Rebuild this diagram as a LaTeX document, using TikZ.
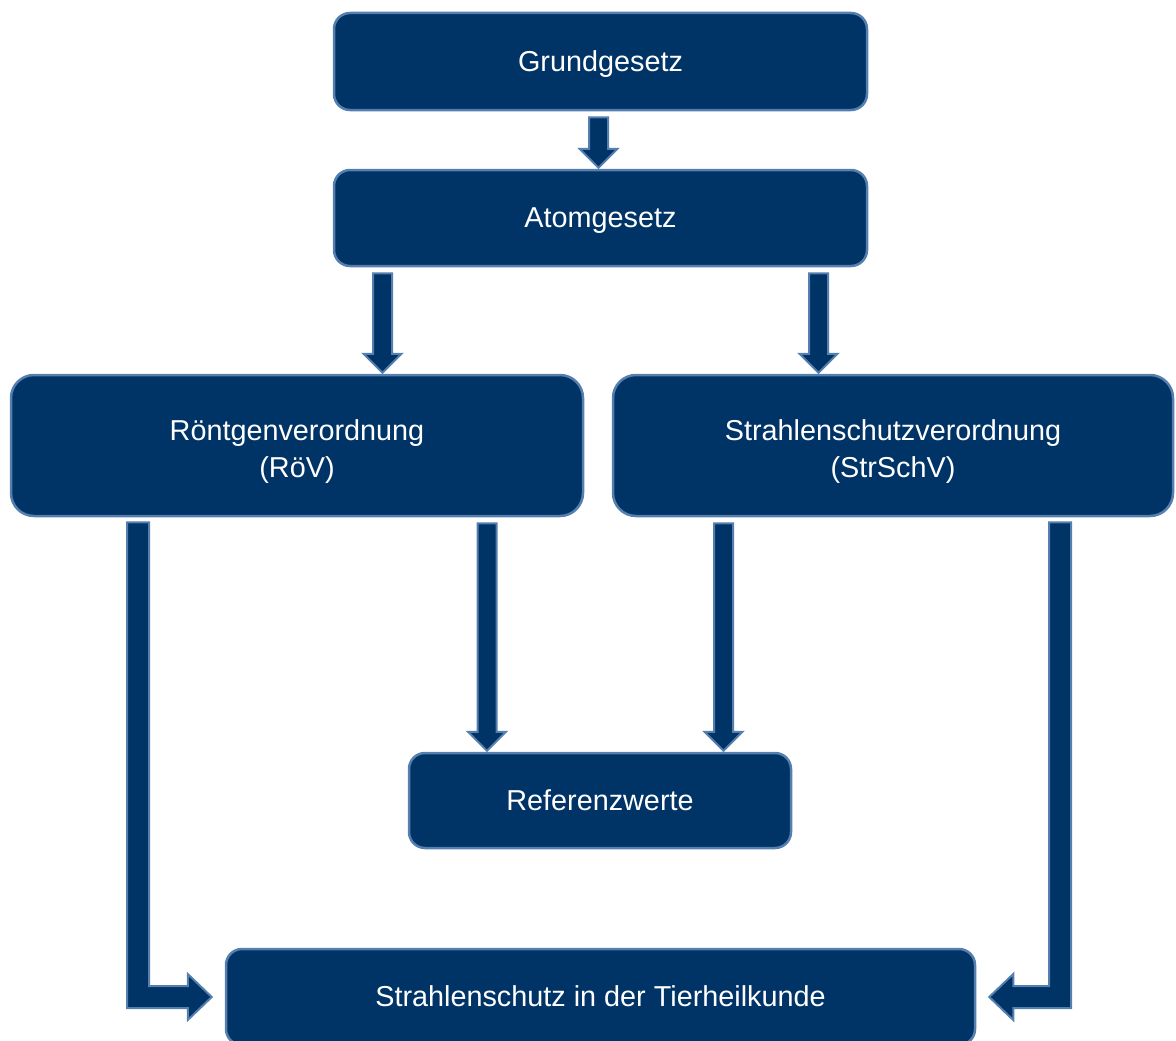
\documentclass[tikz,border=0pt]{standalone}
\usepackage{fontspec}
\setmainfont{Liberation Sans}
\usetikzlibrary{calc}
\definecolor{navy}{RGB}{0,51,102}
\definecolor{rimblue}{RGB}{84,127,174}

\newcommand{\vblock}[3]{%
\draw[blockarrow] let \p1 = ([xshift=#2pt]#1.south), \p2 = (#3.north) in
  (\x1-9.5pt,\y1-6pt) -- (\x1+9.5pt,\y1-6pt) -- (\x1+9.5pt,\y2+20pt) -- (\x1+19pt,\y2+20pt)
  -- (\x1,\y2+1pt) -- (\x1-19pt,\y2+20pt) -- (\x1-9.5pt,\y2+20pt) -- cycle;}

\begin{document}
\begin{tikzpicture}[x=1pt, y=-1pt,
  lawbox/.style={draw=rimblue, fill=navy, line width=2.5pt, rounded corners=16pt,
    text=white, align=center, inner sep=0pt, font=\fontsize{28.8}{37}\selectfont},
  oneline/.style={lawbox, text height=25pt, text depth=6pt},
  twoline/.style={lawbox, rounded corners=23pt, text height=70pt, text depth=7pt},
  blockarrow/.style={draw=rimblue, fill=navy, line width=2pt, line join=miter}]
\useasboundingbox (0,0) rectangle (1176,1041);

\node[oneline, minimum width=533pt, minimum height=97pt] (grund) at (600.5,61.5) {Grundgesetz};
\node[oneline, minimum width=533pt, minimum height=96pt] (atom) at (600.5,218) {Atomgesetz};
\node[twoline, minimum width=572pt, minimum height=141pt] (roev) at (297,445.5) {Röntgenverordnung\\(RöV)};
\node[twoline, minimum width=560pt, minimum height=141pt] (strv) at (893,445.5) {Strahlenschutzverordnung\\(StrSchV)};
\node[oneline, minimum width=382pt, minimum height=95pt] (refw) at (600,800.5) {Referenzwerte};
\node[oneline, minimum width=749pt, minimum height=96pt] (tier) at (600.5,997) {Strahlenschutz in der Tierheilkunde};

\vblock{grund}{-2}{atom}
\vblock{atom}{-218}{roev}
\vblock{atom}{218}{strv}
\vblock{roev}{190}{refw}
\vblock{strv}{-169.5}{refw}

\draw[blockarrow] let \p1 = ([xshift=-159pt]roev.south), \p2 = (tier.west) in
  (\x1-11pt,\y1-5pt) -- (\x1+11pt,\y1-5pt) -- (\x1+11pt,\y2+11pt) -- (\x2-37pt,\y2+11pt)
  -- (\x2-37pt,\y2+23pt) -- (\x2-13pt,\y2) -- (\x2-37pt,\y2-23pt) -- (\x2-37pt,\y2-11pt)
  -- (\x1-11pt,\y2-11pt) -- cycle;
\draw[blockarrow] let \p1 = ([xshift=167pt]strv.south), \p2 = (tier.east) in
  (\x1+11pt,\y1-5pt) -- (\x1-11pt,\y1-5pt) -- (\x1-11pt,\y2+11pt) -- (\x2+37pt,\y2+11pt)
  -- (\x2+37pt,\y2+23pt) -- (\x2+13pt,\y2) -- (\x2+37pt,\y2-23pt) -- (\x2+37pt,\y2-11pt)
  -- (\x1+11pt,\y2-11pt) -- cycle;
\end{tikzpicture}
\end{document}
